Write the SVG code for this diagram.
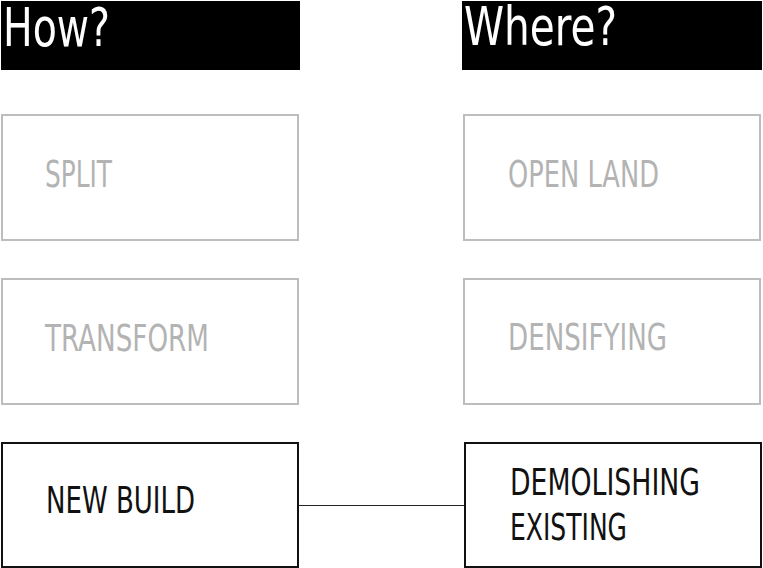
<svg xmlns="http://www.w3.org/2000/svg" width="763" height="568" viewBox="0 0 763 568">
<style>
text{font-family:"Liberation Sans Narrow","DejaVu Sans Condensed","Liberation Sans",sans-serif;font-stretch:condensed}
.hd{fill:#000}
.ht{fill:#fff;font-size:53px}
.g rect{fill:#fff;stroke:#bdbdbd;stroke-width:2}
.g text{fill:#b3b3b3;font-size:38px}
.k rect{fill:#fff;stroke:#111;stroke-width:2}
.k text{fill:#111;font-size:38px}
.c{stroke:#222;stroke-width:1;fill:none}
</style>
<g id="how"><rect class="hd" x="1" y="1" width="299" height="69"/><text class="ht" x="3" y="46" textLength="107" lengthAdjust="spacingAndGlyphs">How?</text></g>
<g id="where"><rect class="hd" x="462" y="1" width="300" height="69"/><text class="ht" x="464" y="45" textLength="153" lengthAdjust="spacingAndGlyphs">Where?</text></g>
<g id="split" class="g"><rect x="2" y="115" width="296" height="125"/><text x="45" y="187" textLength="67" lengthAdjust="spacingAndGlyphs">SPLIT</text></g>
<g id="transform" class="g"><rect x="2" y="279" width="296" height="125"/><text x="45" y="351" textLength="164" lengthAdjust="spacingAndGlyphs">TRANSFORM</text></g>
<g id="newbuild" class="k"><rect x="2" y="443" width="296" height="124"/><text x="46" y="513" textLength="149" lengthAdjust="spacingAndGlyphs">NEW BUILD</text></g>
<g id="openland" class="g"><rect x="464" y="115" width="296" height="125"/><text x="508" y="187" textLength="151" lengthAdjust="spacingAndGlyphs">OPEN LAND</text></g>
<g id="densifying" class="g"><rect x="464" y="279" width="296" height="125"/><text x="508" y="350" textLength="159" lengthAdjust="spacingAndGlyphs">DENSIFYING</text></g>
<g id="demolishing" class="k"><rect x="465" y="443" width="296" height="124"/><text x="510" y="495" textLength="190" lengthAdjust="spacingAndGlyphs">DEMOLISHING</text><text x="510" y="540" textLength="117" lengthAdjust="spacingAndGlyphs">EXISTING</text></g>
<g id="connectors"><line class="c" x1="299" y1="505.5" x2="464" y2="505.5"/></g>
</svg>
